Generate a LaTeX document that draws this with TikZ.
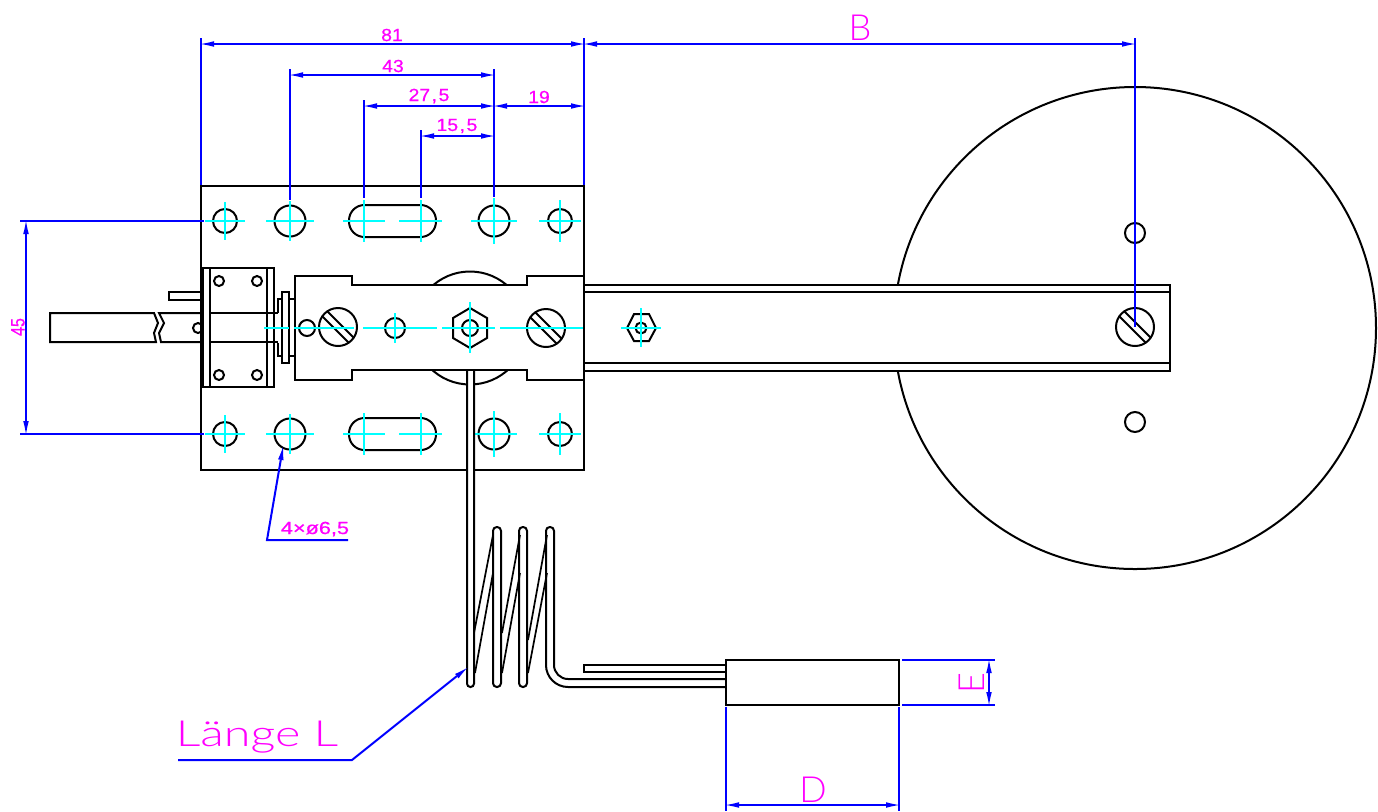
\documentclass[tikz,border=0pt]{standalone}
\usepackage{fontspec}
\setmainfont{Lato}[UprightFont=* Light]
\newfontfamily\dimfont{Liberation Sans}[UprightFeatures={FakeBold=0.6}]
\usetikzlibrary{arrows.meta}
\definecolor{dimblue}{RGB}{0,0,255}
\definecolor{cen}{RGB}{0,255,255}
\definecolor{lab}{RGB}{255,0,255}
\tikzset{
  part/.style={draw=black,line width=1pt},
  thinpart/.style={draw=black,line width=0.85pt},
  centre/.style={draw=cen,line width=1.15pt},
  ext/.style={draw=dimblue,line width=1pt},
  dimarrow/.style={draw=dimblue,line width=1pt,{Latex[length=6.5pt,width=2.8pt,line width=0pt,fill=dimblue]}-{Latex[length=6.5pt,width=2.8pt,line width=0pt,fill=dimblue]}},
  leader/.style={draw=dimblue,line width=1pt,{Latex[length=6.5pt,width=2.8pt,line width=0pt,fill=dimblue]}-},
  smalllab/.style={text=lab,inner sep=0pt,font=\dimfont\fontsize{8.8}{10}\selectfont,xscale=1.1},
  biglab/.style={text=lab,inner sep=0pt,font=\fontsize{18}{20}\selectfont},
}
\newcommand{\holecross}[5]{% x y r hx vy
  \draw[part] (#1,#2) circle [radius=#3];
  \draw[centre] (#1-#4,#2) -- (#1+#4,#2) (#1,#2-#5) -- (#1,#2+#5);}
\newcommand{\slotted}[2]{%
  \draw[part] (#1,#2) circle [radius=19];
  \draw[part] (#1-10.7,#2-15.7) -- (#1+15.7,#2+10.7);
  \draw[part] (#1-15.7,#2-10.7) -- (#1+10.7,#2+15.7);}
\newcommand{\holerow}[1]{%
  \holecross{225}{#1}{12}{20}{19}
  \holecross{290}{#1}{15.5}{24}{20}
  \holecross{494}{#1}{15.5}{23}{23}
  \holecross{560}{#1}{12}{21}{21}
  \draw[part,rounded corners=7.7pt] (349,#1-16) rectangle (436,#1+16);
  \draw[centre] (343,#1) -- (385,#1) (399,#1) -- (442,#1)
    (364,#1-21) -- (364,#1+21) (421,#1-21) -- (421,#1+21);}
\begin{document}
\begin{tikzpicture}[x=0.5pt,y=-0.5pt]
\useasboundingbox (0,0) rectangle (1378,811);
% disc and rail
\draw[part] (1135,328) circle [radius=241];
\draw[part,fill=white] (584,285) rectangle (1170,371);
\draw[part] (584,292) -- (1170,292) (584,363) -- (1170,363);
\draw[part] (1135,233) circle [radius=10];
\draw[part] (1135,422) circle [radius=10];
\slotted{1135}{327}
% plate
\draw[part] (201,186) rectangle (584,470);
\holerow{221}
\holerow{434}
% round part behind the block
\draw[part] (470,328) circle [radius=56.5];
% block
\draw[part,fill=white] (295,276) -- (352,276) -- (352,285) -- (527,285) -- (527,276) -- (584,276)
  -- (584,380) -- (527,380) -- (527,370) -- (352,370) -- (352,380) -- (295,380) -- cycle;
\draw[part] (307,328) circle [radius=8];
\slotted{338}{327}
\slotted{546}{328}
\draw[part] (395,328) circle [radius=10];
% nut
\draw[part] (470,308) -- (487,318) -- (487,338) -- (470,348) -- (453,338) -- (453,318) -- cycle;
\draw[part] (470,328) circle [radius=8];
% small nut
\draw[part] (627,328) -- (634,314) -- (649,314) -- (656,328) -- (649,341) -- (634,341) -- cycle;
\draw[part] (641,328) circle [radius=5.5];
% switch body
\draw[part] (169,292) rectangle (203,300);
\draw[part] (50,313) -- (154,313) -- (158,323) -- (154,333) -- (156,342) -- (50,342) -- cycle;
\draw[part] (203,313) -- (159,313) -- (164,323) -- (159,333) -- (161,342) -- (203,342);
\draw[part] (198,328) circle [radius=5];
\draw[part,fill=white] (203,268) rectangle (274,387);
\draw[part] (210,268) -- (210,387) (267,268) -- (267,387);
\draw[thinpart] (210,313) -- (278,313) (210,342) -- (278,342);
\draw[part] (219,281) circle [radius=5];
\draw[part] (257,281) circle [radius=5];
\draw[part] (219,375) circle [radius=5];
\draw[part] (257,375) circle [radius=5];
\draw[part] (278,313) -- (278,299) -- (295,299);
\draw[part] (278,343) -- (278,356) -- (295,356);
\draw[part,fill=white] (282,292) rectangle (289,363);
% centre lines
\draw[centre] (264,328) -- (289,328) (294,328) -- (354,328) (363,328) -- (437,328)
  (442,328) -- (495,328) (500,328) -- (583,328);
\draw[centre] (395,313) -- (395,343) (470,302) -- (470,353);
\draw[centre] (621,328) -- (661,328) (641,308) -- (641,347);
% capillary
\draw[part,fill=white,rounded corners=1.7pt] (467,371) -- (467,687) -- (474,687) -- (474,371);
\draw[part,rounded corners=1.9pt] (493,527) rectangle (501,687);
\draw[part,rounded corners=1.9pt] (519,527) rectangle (527,687);
\draw[part,rounded corners=1.9pt] (546,600) -- (546,527) -- (554,527) -- (554,600);
\draw[part,rounded corners=11pt] (546,600) -- (546,687) -- (600,687) -- (726,687);
\draw[part,rounded corners=7pt] (554,600) -- (554,679) -- (600,679) -- (726,679);
\draw[thinpart] (474,633) -- (493,535) (475,673) -- (493,573)
  (502,633) -- (520,535) (502,673) -- (520,573)
  (528,640) -- (547,535) (528,673) -- (547,573);
\draw[part] (726,665) -- (584,665) -- (584,672) -- (726,672);
% sensor
\draw[part] (726,660) rectangle (899,705);
% dimensions
\coordinate (p81l) at (201,44); \coordinate (p81r) at (584,44); \coordinate (pB) at (1135,44);
\coordinate (p43l) at (290,75); \coordinate (p43r) at (494,75);
\coordinate (p27l) at (364,106); \coordinate (p27r) at (494,106); \coordinate (p19r) at (584,106);
\coordinate (p15l) at (421,136); \coordinate (p15r) at (494,136);
\coordinate (p45t) at (26,221); \coordinate (p45b) at (26,434);
\coordinate (pDl) at (726,805); \coordinate (pDr) at (899,805);
\coordinate (pEt) at (989,660); \coordinate (pEb) at (989,705);
\draw[ext] (201,38) -- (201,185) (584,38) -- (584,185) (1135,38) -- (1135,327)
  (290,69) -- (290,200) (494,69) -- (494,197) (364,100) -- (364,198) (421,130) -- (421,198)
  (20,221) -- (204,221) (20,434) -- (204,434)
  (726,707) -- (726,811) (899,707) -- (899,811)
  (902,660) -- (995,660) (902,705) -- (995,705);
\draw[dimarrow] (p81l) -- (p81r);
\draw[dimarrow] (p81r) -- (pB);
\draw[dimarrow] (p43l) -- (p43r);
\draw[dimarrow] (p27l) -- (p27r);
\draw[dimarrow] (p27r) -- (p19r);
\draw[dimarrow] (p15l) -- (p15r);
\draw[dimarrow] (p45t) -- (p45b);
\draw[dimarrow] (pDl) -- (pDr);
\draw[dimarrow] (pEt) -- (pEb);
\coordinate (la) at (283,447); \coordinate (lb) at (267,540); \coordinate (lc) at (348,540);
\draw[leader] (la) -- (lb) -- (lc);
\coordinate (ld) at (467,668); \coordinate (le) at (352,760); \coordinate (lf) at (178,760);
\draw[leader] (ld) -- (le) -- (lf);
% labels
\node[smalllab] (t81) at (392,35) {81};
\node[smalllab] (t43) at (393,66) {43};
\node[smalllab] (t27) at (429,96) {27\kern.7pt,\kern.7pt 5};
\node[smalllab] (t19) at (539,97) {19};
\node[smalllab] (t15) at (457,126) {15\kern.7pt,\kern.7pt 5};
\node[smalllab,rotate=90,xscale=0.91] (t45) at (18,327) {45};
\node[smalllab,xscale=1.12] (t4x) at (315,529) {4×ø6,5};
\node[biglab] (tB) at (860,28) {B};
\node[biglab] (tD) at (813,790) {D};
\node[biglab,rotate=90] (tE) at (972,683) {E};
\node[biglab,xscale=1.35] (tL) at (257,737) {Länge L};
\end{tikzpicture}
\end{document}
